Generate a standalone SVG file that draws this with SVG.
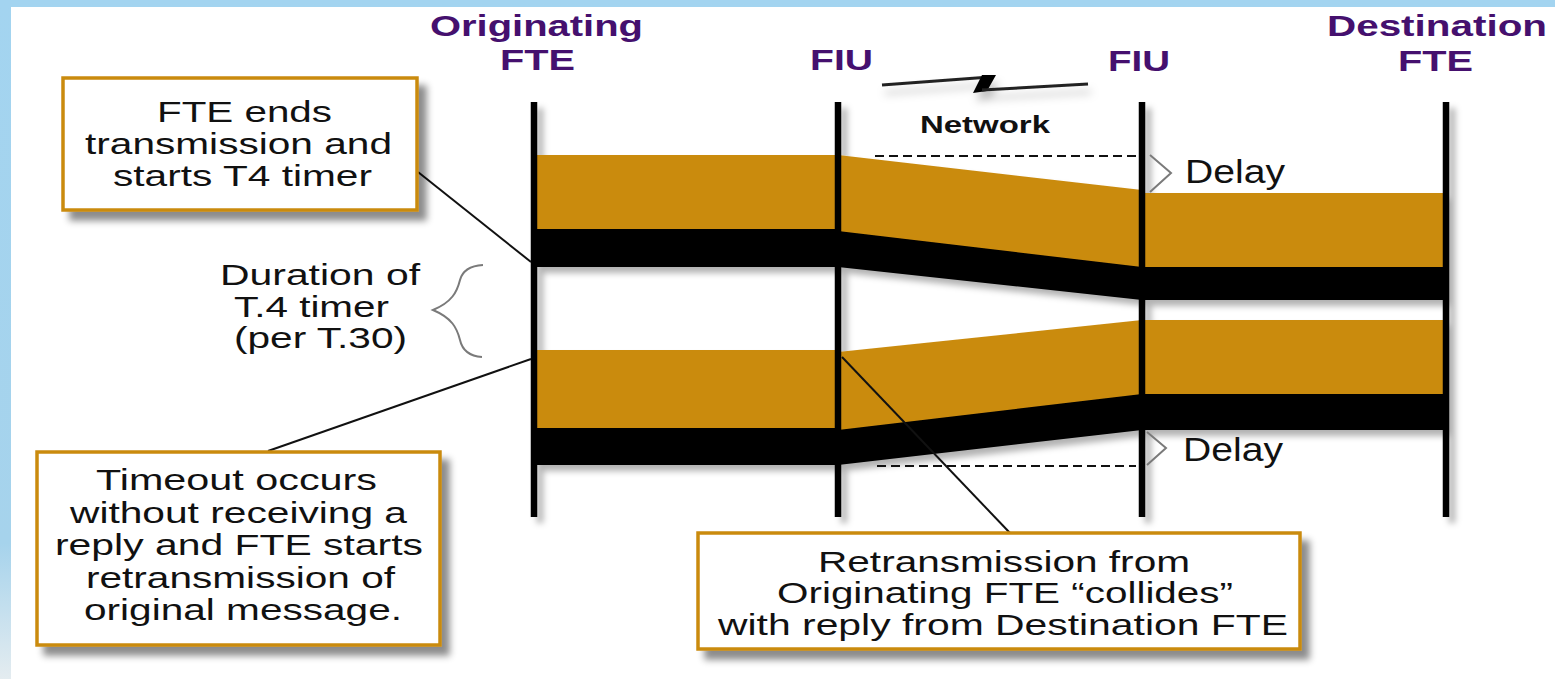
<svg xmlns="http://www.w3.org/2000/svg" width="1555" height="679" viewBox="0 0 1555 679">
  <defs>
    <linearGradient id="frameGrad" x1="0" y1="0" x2="0" y2="1">
      <stop offset="0" stop-color="#a3d4f0"/>
      <stop offset="0.8" stop-color="#a6d3ec"/>
      <stop offset="1" stop-color="#e4ecf0"/>
    </linearGradient>
    <filter id="boxShadow" x="-10%" y="-10%" width="130%" height="140%">
      <feDropShadow dx="8" dy="9" stdDeviation="3.5" flood-color="#000" flood-opacity="0.45"/>
    </filter>
    <filter id="chartShadow" x="-5%" y="-5%" width="115%" height="115%">
      <feDropShadow dx="6" dy="6" stdDeviation="3" flood-color="#000" flood-opacity="0.3"/>
    </filter>
    <filter id="softShadow" x="-10%" y="-50%" width="120%" height="300%">
      <feDropShadow dx="3" dy="8" stdDeviation="4" flood-color="#000" flood-opacity="0.25"/>
    </filter>
  </defs>
  <style>
    .head { font-family: "Liberation Sans", Arial, sans-serif; font-weight: bold; font-size: 29px; fill: #45106e; }
    .body { font-family: "Liberation Sans", Arial, sans-serif; font-size: 30px; fill: #111; }
    .label { font-family: "Liberation Sans", Arial, sans-serif; font-size: 33px; fill: #111; }
    .net { font-family: "Liberation Sans", Arial, sans-serif; font-weight: bold; font-size: 24px; fill: #111; }
    .box { fill: #fff; stroke: #ca8b11; stroke-width: 3.5; }
    .orange { fill: #ca8b11; }
    .black { fill: #000; }
    .vline { stroke: #000; stroke-width: 6.5; }
    .leader { stroke: #111; stroke-width: 2; fill: none; }
    .dash { stroke: #111; stroke-width: 2; stroke-dasharray: 9 5; fill: none; }
    .brace { stroke: #7a7a7a; stroke-width: 2; fill: none; }
  </style>

  <!-- page frame -->
  <rect x="0" y="0" width="1555" height="679" fill="url(#frameGrad)"/>
  <rect x="11" y="7" width="1544" height="672" fill="#fff"/>

  <!-- column headings -->
  <g id="heading-originating">
    <text class="head" x="430" y="36" textLength="213" lengthAdjust="spacingAndGlyphs">Originating</text>
    <text class="head" x="500" y="70" textLength="75" lengthAdjust="spacingAndGlyphs">FTE</text>
  </g>
  <g id="heading-fiu-1">
    <text class="head" x="810" y="70" textLength="63" lengthAdjust="spacingAndGlyphs">FIU</text>
  </g>
  <g id="heading-fiu-2">
    <text class="head" x="1108" y="71" textLength="62" lengthAdjust="spacingAndGlyphs">FIU</text>
  </g>
  <g id="heading-destination">
    <text class="head" x="1327" y="36" textLength="220" lengthAdjust="spacingAndGlyphs">Destination</text>
    <text class="head" x="1398" y="71" textLength="75" lengthAdjust="spacingAndGlyphs">FTE</text>
  </g>

  <!-- network link symbol -->
  <g id="network">
    <g filter="url(#softShadow)">
      <polyline points="882,85 990,77" stroke="#222" stroke-width="3" fill="none"/>
      <polygon points="982,75 996,75 987,91 973,93" fill="#000"/>
      <polyline points="982,90 1088,84" stroke="#222" stroke-width="3" fill="none"/>
    </g>
    <text class="net" x="920" y="133" textLength="130" lengthAdjust="spacingAndGlyphs">Network</text>
  </g>

  <!-- message flow bands and station lines -->
  <g id="timeline" filter="url(#chartShadow)">
    <!-- first transmission -->
    <rect class="orange" x="534" y="155" width="304" height="75"/>
    <rect class="black" x="534" y="229" width="304" height="38"/>
    <polygon class="orange" points="838,155 1142,190 1142,268 838,232"/>
    <polygon class="black" points="838,231 1142,267 1142,300 838,267"/>
    <rect class="orange" x="1142" y="193" width="304" height="75"/>
    <rect class="black" x="1142" y="267" width="304" height="33"/>
    <!-- retransmission / reply -->
    <rect class="orange" x="534" y="350" width="304" height="79"/>
    <rect class="black" x="534" y="428" width="304" height="37"/>
    <polygon class="orange" points="838,352 1142,320 1142,395 838,431"/>
    <polygon class="black" points="838,430 1142,394 1142,430 838,465"/>
    <rect class="orange" x="1142" y="320" width="304" height="75"/>
    <rect class="black" x="1142" y="394" width="304" height="36"/>
    <!-- station lines -->
    <line id="line-originating" class="vline" x1="534" y1="102" x2="534" y2="517"/>
    <line id="line-fiu-1" class="vline" x1="838" y1="102" x2="838" y2="517"/>
    <line id="line-fiu-2" class="vline" x1="1142" y1="102" x2="1142" y2="517"/>
    <line id="line-destination" class="vline" x1="1446" y1="102" x2="1446" y2="517"/>
  </g>

  <!-- connectors: leaders, delay markers, timer brace -->
  <g id="connectors">
    <line class="leader" x1="418" y1="172" x2="531" y2="262"/>
    <line class="leader" x1="268" y1="451" x2="531" y2="359"/>
    <line class="leader" x1="842" y1="357" x2="1010" y2="533"/>
    <line class="dash" x1="875" y1="156" x2="1136" y2="156"/>
    <line class="dash" x1="877" y1="466" x2="1136" y2="466"/>
    <polyline class="brace" points="1150,155 1171,173 1150,192"/>
    <polyline class="brace" points="1147,432 1166,448 1147,465"/>
    <path class="brace" d="M483,265 C468,266 462,272 460,280 C457,292 452,302 433,310 C452,318 457,328 460,340 C462,349 468,356 482,357"/>
  </g>

  <g id="delay-1">
    <text class="label" x="1185" y="183" textLength="100" lengthAdjust="spacingAndGlyphs">Delay</text>
  </g>
  <g id="delay-2">
    <text class="label" x="1183" y="461" textLength="100" lengthAdjust="spacingAndGlyphs">Delay</text>
  </g>

  <g id="timer-duration">
    <text class="body" x="220" y="285" textLength="200" lengthAdjust="spacingAndGlyphs">Duration of</text>
    <text class="body" x="234" y="317" textLength="155" lengthAdjust="spacingAndGlyphs">T.4 timer</text>
    <text class="body" x="234" y="348" textLength="173" lengthAdjust="spacingAndGlyphs">(per T.30)</text>
  </g>

  <!-- callout boxes -->
  <g id="note-t4-start">
    <rect class="box" x="63" y="78" width="354" height="132" filter="url(#boxShadow)"/>
    <text class="body" x="157" y="122" textLength="175" lengthAdjust="spacingAndGlyphs">FTE ends</text>
    <text class="body" x="85" y="154" textLength="307" lengthAdjust="spacingAndGlyphs">transmission and</text>
    <text class="body" x="113" y="186" textLength="259" lengthAdjust="spacingAndGlyphs">starts T4 timer</text>
  </g>

  <g id="note-timeout">
    <rect class="box" x="37" y="452" width="403" height="193" filter="url(#boxShadow)"/>
    <text class="body" x="96" y="490" textLength="281" lengthAdjust="spacingAndGlyphs">Timeout occurs</text>
    <text class="body" x="70" y="523" textLength="337" lengthAdjust="spacingAndGlyphs">without receiving a</text>
    <text class="body" x="55" y="555" textLength="368" lengthAdjust="spacingAndGlyphs">reply and FTE starts</text>
    <text class="body" x="86" y="588" textLength="309" lengthAdjust="spacingAndGlyphs">retransmission of</text>
    <text class="body" x="84" y="620" textLength="318" lengthAdjust="spacingAndGlyphs">original message.</text>
  </g>

  <g id="note-collision">
    <rect class="box" x="698" y="533" width="602" height="116" filter="url(#boxShadow)"/>
    <text class="body" x="818" y="572" textLength="372" lengthAdjust="spacingAndGlyphs">Retransmission from</text>
    <text class="body" x="777" y="603" textLength="456" lengthAdjust="spacingAndGlyphs">Originating FTE “collides”</text>
    <text class="body" x="718" y="635" textLength="570" lengthAdjust="spacingAndGlyphs">with reply from Destination FTE</text>
  </g>
</svg>
